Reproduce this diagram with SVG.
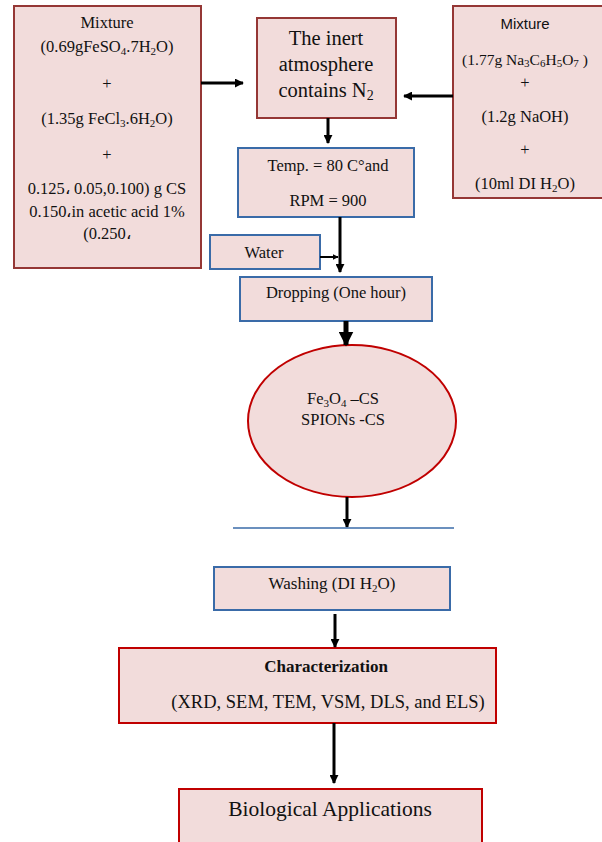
<svg xmlns="http://www.w3.org/2000/svg" width="602" height="842" viewBox="0 0 602 842">
<style>
.box{fill:#F2DCDB;stroke-width:2}
.dr{stroke:#953735}
.rd{stroke:#C00000}
.bl{stroke:#3A6BA8}
text{font-family:"Liberation Serif","Times New Roman",serif;font-size:16.5px;fill:#111;text-anchor:middle}
.s{font-family:"Liberation Sans",Arial,sans-serif;font-size:15px}
.sub{font-size:11px}
.c{stroke:#000;stroke-width:3;fill:none}
</style>
<defs>
<marker id="ah" viewBox="0 0 10 10" refX="9" refY="5" markerWidth="3" markerHeight="3" orient="auto" markerUnits="strokeWidth">
<path d="M0,0 L10,5 L0,10 z" fill="#000"/>
</marker>
</defs>
<rect width="602" height="842" fill="#fff"/>

<g id="mix1">
<rect class="box dr" x="14" y="6" width="187" height="262"/>
<text x="107" y="28">Mixture</text>
<text x="107" y="52">(0.69gFeSO<tspan class="sub" dy="3">4</tspan><tspan dy="-3">.7H</tspan><tspan class="sub" dy="3">2</tspan><tspan dy="-3">O)</tspan></text>
<text x="107" y="89">+</text>
<text x="107" y="124">(1.35g FeCl<tspan class="sub" dy="3">3</tspan><tspan dy="-3">.6H</tspan><tspan class="sub" dy="3">2</tspan><tspan dy="-3">O)</tspan></text>
<text x="107" y="160">+</text>
<text x="107" y="194">0.125، 0.05,0.100) g CS</text>
<text x="107" y="217">0.150،in acetic acid 1%</text>
<text x="107" y="239">(0.250،</text>
</g>

<g id="inert">
<rect class="box dr" x="257" y="18" width="139" height="100"/>
<text x="326" y="45" style="font-size:20.5px">The inert</text>
<text x="326" y="71" style="font-size:20.5px">atmosphere</text>
<text x="326" y="97" style="font-size:20.5px">contains N<tspan style="font-size:14px" dy="3">2</tspan></text>
</g>

<g id="mix2">
<rect class="box dr" x="453" y="6" width="155" height="192"/>
<text class="s" x="525" y="29">Mixture</text>
<text x="525" y="65" style="font-size:15.5px">(1.77g Na<tspan class="sub" dy="2">3</tspan><tspan dy="-2">C</tspan><tspan class="sub" dy="2">6</tspan><tspan dy="-2">H</tspan><tspan class="sub" dy="2">5</tspan><tspan dy="-2">O</tspan><tspan class="sub" dy="2">7</tspan><tspan dy="-2"> )</tspan></text>
<text x="525" y="88">+</text>
<text x="525" y="122">(1.2g NaOH)</text>
<text x="525" y="155">+</text>
<text x="525" y="189">(10ml DI H<tspan class="sub" dy="3">2</tspan><tspan dy="-3">O)</tspan></text>
</g>

<g id="temp">
<rect class="box bl" x="238" y="148" width="176" height="69"/>
<text x="328" y="171">Temp. = 80 C°and</text>
<text x="328" y="206">RPM = 900</text>
</g>

<g id="water">
<rect class="box bl" x="210" y="235" width="110" height="34"/>
<text x="264" y="258">Water</text>
</g>

<g id="drop">
<rect class="box bl" x="240" y="277" width="192" height="44"/>
<text x="336" y="298">Dropping (One hour)</text>
</g>

<g id="product">
<ellipse cx="352" cy="421" rx="104" ry="76" fill="#F2DCDB" stroke="#C00000" stroke-width="2"/>
<text x="343" y="404">Fe<tspan class="sub" dy="3">3</tspan><tspan dy="-3">O</tspan><tspan class="sub" dy="3">4</tspan><tspan dy="-3"> –CS</tspan></text>
<text x="343" y="425">SPIONs -CS</text>
</g>

<g id="wash">
<rect class="box bl" x="214" y="567" width="236" height="43"/>
<text x="332" y="589" style="font-size:17px">Washing (DI H<tspan class="sub" dy="3">2</tspan><tspan dy="-3">O)</tspan></text>
</g>

<g id="char">
<rect class="box rd" x="119" y="648" width="377" height="75"/>
<text x="326" y="672" style="font-size:17px;font-weight:bold">Characterization</text>
<text x="328" y="708" style="font-size:18.5px">(XRD, SEM, TEM, VSM, DLS, and ELS)</text>
</g>

<g id="bio">
<rect class="box rd" x="179" y="789" width="303" height="60"/>
<text x="330" y="816" style="font-size:21.5px">Biological Applications</text>
</g>

<g id="connectors">
<line class="c" x1="201" y1="83" x2="243" y2="83" marker-end="url(#ah)"/>
<line class="c" x1="453" y1="96" x2="404" y2="96" marker-end="url(#ah)"/>
<line class="c" x1="328" y1="118" x2="328" y2="143" marker-end="url(#ah)"/>
<line class="c" x1="340" y1="217" x2="340" y2="272" marker-end="url(#ah)"/>
<line x1="320" y1="257" x2="338" y2="257" stroke="#000" stroke-width="2" marker-end="url(#ah)"/>
<line x1="346" y1="321" x2="346" y2="345" stroke="#000" stroke-width="5" marker-end="url(#ah)"/>
<line class="c" x1="347" y1="497" x2="347" y2="527" marker-end="url(#ah)"/>
<line x1="233" y1="528" x2="454" y2="528" stroke="#3A6BA8" stroke-width="1.5"/>
<line class="c" x1="335" y1="614" x2="335" y2="647" marker-end="url(#ah)"/>
<line class="c" x1="334" y1="723" x2="334" y2="783" marker-end="url(#ah)"/>
</g>
</svg>
